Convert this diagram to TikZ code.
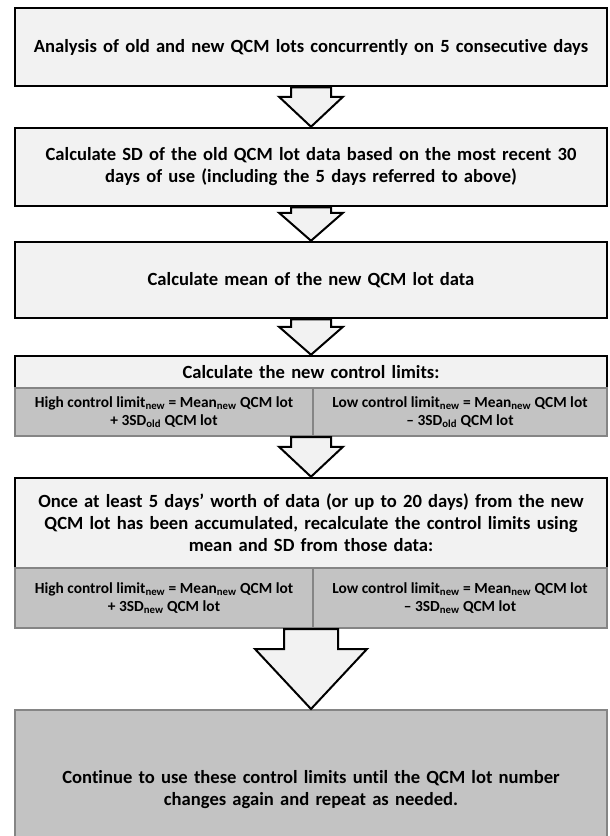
\documentclass[tikz,border=0pt]{standalone}
\usepackage{fontspec}
\setmainfont{Carlito}[Ligatures=NoCommon]
\usetikzlibrary{calc}
\definecolor{boxfill}{HTML}{F2F2F2}
\definecolor{subfill}{HTML}{C3C3C3}
\definecolor{subdraw}{HTML}{858585}
\begin{document}
\begin{tikzpicture}[x=1pt,y=-1pt,
  mainbox/.style={draw=black, line width=2.5pt, fill=boxfill, minimum width=592pt,
    text width=580pt, align=center, inner sep=0pt,
    font=\bfseries\fontsize{18.6}{22}\selectfont},
  subbox/.style={draw=subdraw, line width=2pt, fill=subfill, align=center, inner sep=0pt,
    font=\bfseries\fontsize{15.4}{18}\selectfont},
  lastbox/.style={draw=subdraw, line width=2pt, fill=subfill, minimum width=592pt,
    text width=580pt, align=center, inner sep=0pt,
    font=\bfseries\fontsize{18.6}{22}\selectfont},
  blockarr/.style={draw=black, line width=2pt, fill=boxfill, line join=miter}]
\clip (0,0) rectangle (610,836);
\fill[white] (0,0) rectangle (610,836);

\node[mainbox, minimum height=78pt] (b1) at (311,47)
  {Analysis of old and new QCM lots concurrently on 5 consecutive days};
\node[mainbox, minimum height=78pt] (b2) at (311,167)
  {Calculate SD of the old QCM lot data based on the most recent 30\\days of use (including the 5 days referred to above)};
\node[mainbox, minimum height=76pt] (b3) at (311,280)
  {Calculate mean of the new QCM lot data};
\node[mainbox, minimum height=32pt] (b4) at (311,372)
  {Calculate the new control limits:};
\node[subbox, minimum width=298pt, minimum height=48pt] (b4l) at (164,412)
  {High control limit\textsubscript{new} = Mean\textsubscript{new} QCM lot\\+ 3SD\textsubscript{old} QCM lot};
\node[subbox, minimum width=294pt, minimum height=48pt] (b4r) at (460,412)
  {Low control limit\textsubscript{new} = Mean\textsubscript{new} QCM lot\\– 3SD\textsubscript{old} QCM lot};
\node[mainbox, minimum height=90pt] (b5) at (311,523)
  {Once at least 5 days’ worth of data (or up to 20 days) from the new\\QCM lot has been accumulated, recalculate the control limits using\\mean and SD from those data:};
\node[subbox, minimum width=298pt, minimum height=60pt] (b5l) at (164,598)
  {High control limit\textsubscript{new} = Mean\textsubscript{new} QCM lot\\+ 3SD\textsubscript{new} QCM lot};
\node[subbox, minimum width=294pt, minimum height=60pt] (b5r) at (460,598)
  {Low control limit\textsubscript{new} = Mean\textsubscript{new} QCM lot\\– 3SD\textsubscript{new} QCM lot};
\node[lastbox, minimum height=160pt] (b6) at (311,790)
  {Continue to use these control limits until the QCM lot number\\changes again and repeat as needed.};

\coordinate (a4) at (b4.south |- b4l.south);
\coordinate (a5) at (b5.south |- b5l.south);

\newcommand\blockarrow[5]{%
  \draw[blockarr] ($(#1)+(-#3,0)$) -- ($(#2)+(-#3,-#5)$) -- ($(#2)+(-#4,-#5)$)
    -- (#2) -- ($(#2)+(#4,-#5)$) -- ($(#2)+(#3,-#5)$) -- ($(#1)+(#3,0)$) -- cycle;}
\blockarrow{b1.south}{b2.north}{20}{32}{30}
\blockarrow{b2.south}{b3.north}{20}{32}{28}
\blockarrow{b3.south}{b4.north}{20}{32}{28}
\blockarrow{a4}{b5.north}{20}{32}{30}
\blockarrow{a5}{b6.north}{27}{56}{60}
\end{tikzpicture}
\end{document}
